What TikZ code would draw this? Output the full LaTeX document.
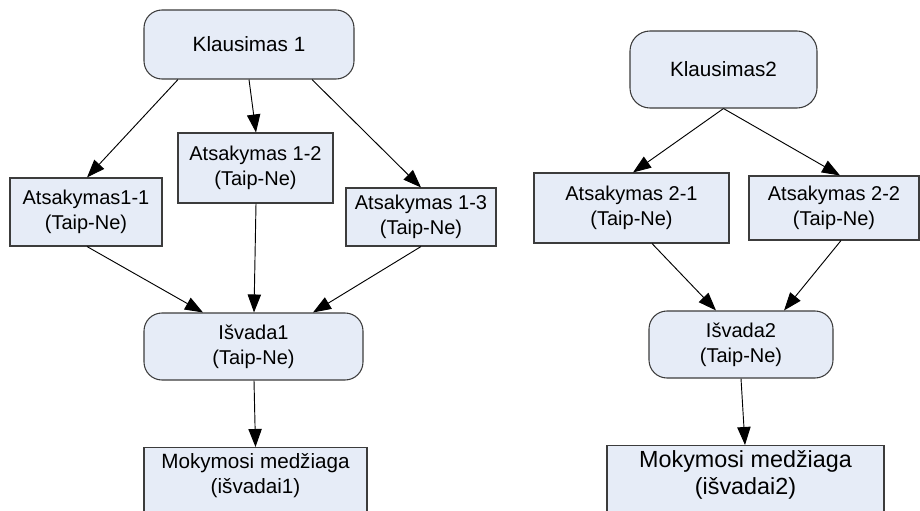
\documentclass[tikz,border=0pt]{standalone}
\usepackage{fontspec}
\setmainfont{Liberation Sans}
\usetikzlibrary{arrows.meta,calc}

\definecolor{boxfill}{RGB}{230,236,247}
\definecolor{boxline}{RGB}{60,60,60}

\tikzset{
  px/.style={x=0.75pt,y=-0.75pt},
  base/.style={draw=boxline,fill=boxfill,line width=0.8pt,align=center,
               inner sep=2pt,font=\fontsize{15}{18.5}\selectfont},
  rectbox/.style={base},
  roundbox/.style={base,rounded corners=13.5pt},
  link/.style={line width=0.7pt,-{Triangle[length=13.5pt,width=10pt]}},
}

\begin{document}
\begin{tikzpicture}[px]
\clip (0,0) rectangle (920,510);

% ---- first question tree ----
\node[roundbox,minimum width=157.5pt,minimum height=51.75pt,
      font=\fontsize{15.5}{17}\selectfont] (k1) at (249,44.5) {Klausimas 1};
\node[rectbox,minimum width=114pt,minimum height=51pt] (a11) at (86,212)
  {Atsakymas1-1\\(Taip-Ne)};
\node[rectbox,minimum width=116.25pt,minimum height=52.5pt] (a12) at (255.5,168)
  {Atsakymas 1-2\\(Taip-Ne)};
\node[rectbox,minimum width=112.5pt,minimum height=43.5pt] (a13) at (421,217)
  {Atsakymas 1-3\\(Taip-Ne)};
\node[roundbox,minimum width=164.25pt,minimum height=50.25pt] (i1) at (253.5,346.5)
  {Išvada1\\(Taip-Ne)};
\node[rectbox,minimum width=167.25pt,anchor=north,inner ysep=4.5pt,
      text depth=50pt,font=\fontsize{15.5}{19}\selectfont] (m1) at (255.5,447)
  {Mokymosi medžiaga\\(išvadai1)};

\draw[link] ($(k1.south)+(-71,0)$) -- ($(a11.north)+(1,0)$);
\draw[link] (k1.south) -- ($(a12.north)+(0.5,0)$);
\draw[link] ($(k1.south)+(63,0)$) -- (a13.north);
\draw[link] ($(a11.south)+(1,0)$) -- ($(i1.north)+(-50.5,0)$);
\draw[link] ($(a12.south)+(0.5,0)$) -- ($(i1.north)+(0.5,0)$);
\draw[link] (a13.south) -- ($(i1.north)+(59.5,0)$);
\draw[link] ($(i1.south)+(0.5,0)$) -- (m1.north);

% ---- second question tree ----
\node[roundbox,minimum width=140.25pt,minimum height=57.75pt,
      rounded corners=15pt,font=\fontsize{15.5}{17}\selectfont] (k2) at (723.5,69.5)
  {Klausimas2};
\node[rectbox,minimum width=146.25pt,minimum height=52.5pt] (a21) at (631.5,208)
  {Atsakymas 2-1\\(Taip-Ne)};
\node[rectbox,minimum width=127.5pt,minimum height=48pt] (a22) at (834,208)
  {Atsakymas 2-2\\(Taip-Ne)};
\node[roundbox,minimum width=138pt,minimum height=50.25pt] (i2) at (741,344.5)
  {Išvada2\\(Taip-Ne)};
\node[rectbox,minimum width=207.75pt,anchor=north,inner ysep=4pt,
      text depth=50pt,font=\fontsize{17.5}{20}\selectfont] (m2) at (745.5,445)
  {Mokymosi medžiaga\\(išvadai2)};

\draw[link] (k2.south) -- ($(a21.north)+(1.5,0)$);
\draw[link] (k2.south) -- ($(a22.north)+(6,0)$);
\draw[link] ($(a21.south)+(20.5,0)$) -- ($(i2.north)+(-25,0)$);
\draw[link] ($(a22.south)+(7,0)$) -- ($(i2.north)+(43,0)$);
\draw[link] (i2.south) -- ($(m2.north)+(-0.5,0)$);
\end{tikzpicture}
\end{document}
